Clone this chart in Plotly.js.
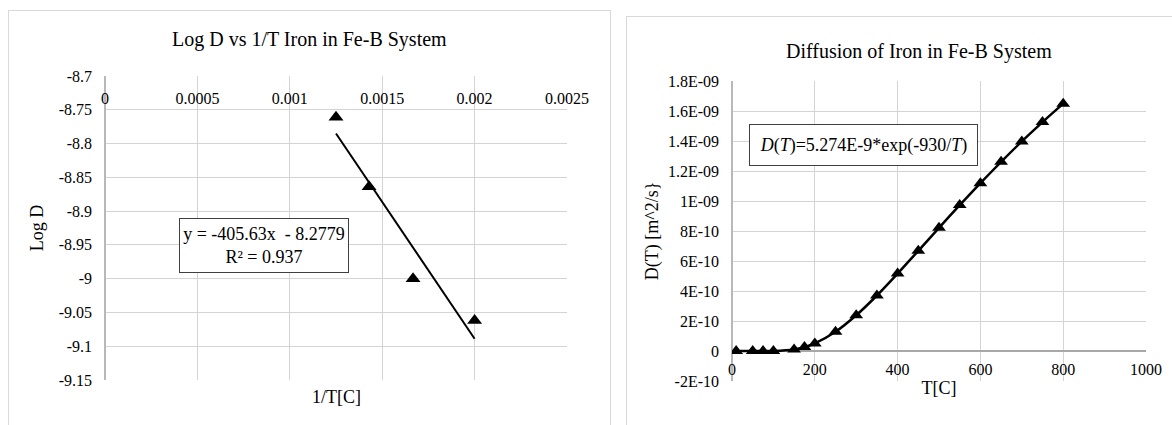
<!DOCTYPE html>
<html>
<head>
<meta charset="utf-8">
<script src="https://cdn.plot.ly/plotly-3.0.1.min.js"></script>
<style>
html,body{margin:0;padding:0;background:#fff;}
#wrap{position:relative;width:1172px;height:425px;overflow:hidden;}
#chart{width:1172px;height:425px;}
.box{position:absolute;border:1.5px solid #d9d9d9;pointer-events:none;box-sizing:border-box;}
</style>
</head>
<body>
<div id="wrap">
<div id="chart"></div>
<div class="box" style="left:8px;top:10px;width:603px;height:440px;"></div>
<div class="box" style="left:626px;top:16px;width:600px;height:440px;"></div>
</div>
<script>
// ---- Left chart data: Log D vs 1/T ----
const invT = [0.00125, 0.001429, 0.001667, 0.002];
const logD = [-8.761, -8.864, -9.0, -9.062];
const trendX = [0.00125, 0.002];
const trendY = [-8.785, -9.089];
const leftXTickVals = [0, 0.0005, 0.001, 0.0015, 0.002, 0.0025];
const leftXTickText = ['0', '0.0005', '0.001', '0.0015', '0.002', '0.0025'];
const leftYTickVals = [-8.7, -8.75, -8.8, -8.85, -8.9, -8.95, -9.0, -9.05, -9.1, -9.15];
const leftYTickText = ['-8.7', '-8.75', '-8.8', '-8.85', '-8.9', '-8.95', '-9', '-9.05', '-9.1', '-9.15'];

// ---- Right chart data: D(T) vs T ----
const tempC = [10, 50, 75, 100, 150, 175, 200, 250, 300, 350, 400, 450, 500, 550, 600, 650, 700, 750, 800];
const diffD = [0, 0, 0, 4.8e-13, 1.07e-11, 2.6e-11, 5.04e-11, 1.28e-10, 2.38e-10, 3.70e-10, 5.16e-10,
               6.68e-10, 8.21e-10, 9.73e-10, 1.119e-9, 1.261e-9, 1.397e-9, 1.526e-9, 1.649e-9];
const rightXTickVals = [0, 200, 400, 600, 800, 1000];
const rightYTickVals = [-2e-10, 0, 2e-10, 4e-10, 6e-10, 8e-10, 1e-9, 1.2e-9, 1.4e-9, 1.6e-9, 1.8e-9];
const rightYTickText = ['-2E-10', '0', '2E-10', '4E-10', '6E-10', '8E-10', '1E-09', '1.2E-09', '1.4E-09', '1.6E-09', '1.8E-09'];

const FONT = 'Liberation Serif';
const GRID = '#d4d4d4';
const AXIS = '#b8b8b8';
const W = 1172, H = 425;
const px = v => v / W;
const py = v => (H - v) / H;
const tf = () => ({ family: FONT, size: 16, color: '#000000' });
const ttf = () => ({ family: FONT, size: 18, color: '#000000' });

const traces = [
  { x: trendX, y: trendY, xaxis: 'x', yaxis: 'y', mode: 'lines',
    line: { color: '#000', width: 2 }, hoverinfo: 'skip', showlegend: false },
  { x: invT, y: logD, xaxis: 'x', yaxis: 'y', mode: 'markers',
    marker: { symbol: 'triangle-up', size: 13, color: '#000' }, showlegend: false },
  { x: tempC, y: diffD, xaxis: 'x2', yaxis: 'y2', mode: 'lines+markers',
    line: { color: '#000', width: 2.5, shape: 'spline', smoothing: 0.6 },
    marker: { symbol: 'triangle-up', size: 12, color: '#000' }, showlegend: false }
];

const layout = {
  width: W, height: H,
  margin: { l: 0, r: 0, t: 0, b: 0 },
  showlegend: false,
  xaxis: {
    domain: [px(105), px(567)], anchor: 'y', side: 'top',
    range: [0, 0.0025], tickvals: leftXTickVals, ticktext: leftXTickText,
    showgrid: true, gridcolor: GRID,
    zeroline: true, zerolinecolor: AXIS, zerolinewidth: 1.5,
    ticks: '', ticklabelposition: 'inside', ticklabeloverflow: 'allow', ticklabelstandoff: 14,
    tickfont: tf()
  },
  yaxis: {
    domain: [py(380), py(76)], anchor: 'x',
    range: [-9.1501, -8.6999], tickvals: leftYTickVals, ticktext: leftYTickText,
    showgrid: true, gridcolor: GRID, zeroline: false,
    ticks: '', ticklabelstandoff: 12,
    tickfont: tf(),
    title: { text: 'Log D', font: ttf(), standoff: 10 }
  },
  xaxis2: {
    domain: [px(732), px(1146)], anchor: 'y2',
    range: [0, 1000], tickvals: rightXTickVals,
    showgrid: true, gridcolor: GRID,
    zeroline: true, zerolinecolor: AXIS, zerolinewidth: 1.5,
    ticks: '', ticklabelposition: 'inside', ticklabeloverflow: 'allow',
    tickfont: tf(),
    title: { text: 'T[C]', font: ttf(), standoff: 4 }
  },
  yaxis2: {
    domain: [py(381), py(81)], anchor: 'x2',
    range: [-2.0001e-10, 1.8001e-9], tickvals: rightYTickVals, ticktext: rightYTickText,
    showgrid: true, gridcolor: GRID,
    zeroline: true, zerolinecolor: '#a8a8a8', zerolinewidth: 1.5,
    ticks: '', ticklabelstandoff: 12,
    tickfont: tf(),
    title: { text: 'D(T) [m^2/s}', font: ttf(), standoff: 4 }
  },
  annotations: [
    { text: 'Log D vs 1/T Iron in Fe-B System', xref: 'paper', yref: 'paper',
      x: px(309), y: py(39), xanchor: 'center', yanchor: 'middle', showarrow: false,
      font: { family: FONT, size: 20, color: '#000' } },
    { text: 'Diffusion of Iron in Fe-B System', xref: 'paper', yref: 'paper',
      x: px(919), y: py(52), xanchor: 'center', yanchor: 'middle', showarrow: false,
      font: { family: FONT, size: 20, color: '#000' } },
    { text: '1/T[C]', xref: 'paper', yref: 'paper',
      x: px(336), y: py(397), xanchor: 'center', yanchor: 'middle', showarrow: false,
      font: { family: FONT, size: 18, color: '#000' } },
    { text: 'y = -405.63x  - 8.2779<br>R² = 0.937', xref: 'paper', yref: 'paper',
      x: px(264), y: py(245.5), xanchor: 'center', yanchor: 'middle', showarrow: false,
      width: 168, height: 53, align: 'center', valign: 'middle',
      bgcolor: '#fff', bordercolor: '#404040', borderwidth: 1, borderpad: 0,
      font: { family: FONT, size: 18, color: '#000' } },
    { text: '<i>D</i>(<i>T</i>)=5.274E-9*exp(-930/<i>T</i>)', xref: 'paper', yref: 'paper',
      x: px(863.5), y: py(145), xanchor: 'center', yanchor: 'middle', showarrow: false,
      width: 227, height: 40, align: 'center', valign: 'middle',
      bgcolor: '#fff', bordercolor: '#404040', borderwidth: 1, borderpad: 0,
      font: { family: FONT, size: 18, color: '#000' } }
  ]
};

Plotly.newPlot('chart', traces, layout, { displayModeBar: false, staticPlot: true });
</script>
</body>
</html>
